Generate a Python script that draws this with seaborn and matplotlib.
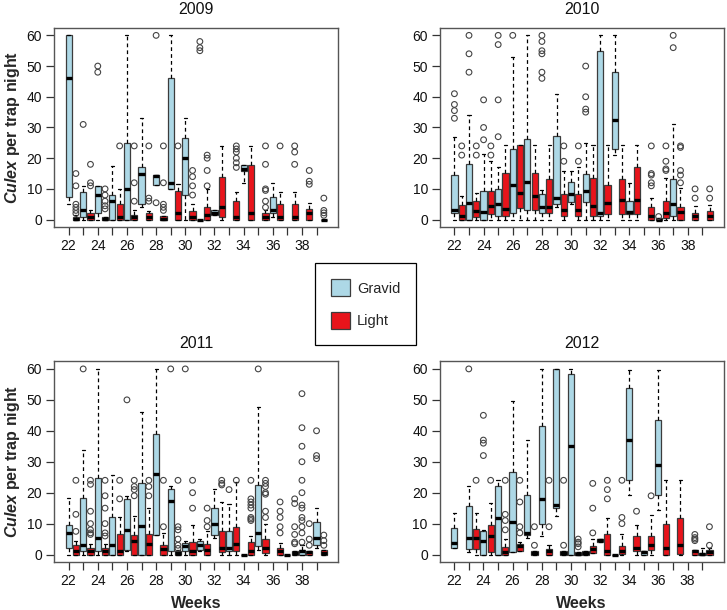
import matplotlib
matplotlib.use("Agg")
import matplotlib.pyplot as plt
import seaborn as sns
import pandas as pd
from matplotlib.patches import Patch

sns.set_style("ticks")
plt.rcParams["font.family"] = ["Liberation Sans", "DejaVu Sans"]
plt.rcParams["mathtext.fontset"] = "custom"
plt.rcParams["mathtext.it"] = "Liberation Sans:italic:bold"
plt.rcParams["mathtext.rm"] = "Liberation Sans:bold"

# ---------------- data: (week, low whisker, Q1, median, Q3, high whisker) -------------
years = ["2009", "2010", "2011", "2012"]
weeks = list(range(22, 40))
week_labels = [str(w) if (w % 2 == 0 and w <= 38) else "" for w in weeks]
y_ticks = [0, 10, 20, 30, 40, 50, 60]

gravid_2009 = [
    (22, 5, 7.5, 46, 60, 60), (23, 0, 1, 3, 9, 11), (24, 0, 2, 8, 11, 11),
    (25, 0, 0, 6, 8, 17.5), (26, 0, 0, 10, 25, 60), (27, 4, 5, 15, 17, 33),
    (28, 11.4, 11.4, 14.2, 14.6, 14.6), (29, 10, 10, 12, 46, 60),
    (30, 0, 8, 20, 26.5, 33), (31, 0, 0, 0, 0, 0), (32, 1.6, 1.6, 2.3, 3, 3),
    (34, 12, 15.7, 16.5, 17.8, 17.8), (36, 1, 2, 3, 7.5, 12),
]
light_2009 = [
    (22, 0, 0, 0.3, 1, 1.5), (23, 0, 0, 1, 2, 3), (24, 0, 0, 0.1, 1, 1),
    (25, 0, 0, 1, 5, 10), (26, 0, 0, 1, 1.6, 3), (27, 0, 0, 1, 2, 2.7),
    (28, 0, 0, 0.3, 1.1, 1.1), (29, 0, 0, 2.2, 9.3, 11.5), (30, 0, 0, 1, 2.7, 5),
    (31, 0, 0, 1.4, 4, 10), (32, 0, 1, 4, 14, 24), (33, 0, 0, 1, 6, 9),
    (34, 0, 0, 2.3, 17.8, 24), (35, 0, 0, 1, 2, 3), (36, 0, 0, 1, 5, 9),
    (37, 0, 0, 1, 5, 9), (38, 0, 0, 2, 3.6, 5.5), (39, 0, 0, 0, 0, 0),
]
gravid_out_2009 = [(23, 31), (24, 48), (24, 50), (28, 60), (28, 5.5),
                   (31, 58), (31, 56), (31, 55)]
light_out_2009 = [
    (22, 15), (22, 11), (22, 5), (22, 4), (22, 3), (22, 2),
    (23, 18), (23, 12), (23, 11), (24, 10), (24, 8), (24, 6), (24, 4.5), (24, 3.5),
    (25, 24), (26, 24), (26, 12), (26, 6), (27, 24), (27, 7), (27, 6),
    (28, 24), (28, 12), (28, 5), (28, 4), (28, 3), (29, 24),
    (30, 16), (30, 14), (30, 11), (30, 8), (31, 21), (31, 20), (31, 16), (31, 11),
    (33, 24), (33, 23), (33, 22), (33, 20), (33, 18.5), (33, 17),
    (35, 24), (35, 18), (35, 10), (35, 9.5), (35, 6), (35, 4), (36, 24),
    (37, 24), (37, 22), (37, 18), (38, 16), (38, 12.5), (38, 11.5),
    (39, 7), (39, 3), (39, 2.2), (39, 1.4),
]

gravid_2010 = [
    (22, 0, 2, 3, 14.5, 27), (23, 0, 0, 5.5, 18, 34), (24, 0, 0, 2.5, 9.3, 21.5),
    (25, 0, 1.2, 5, 10, 17), (26, 0, 2.3, 11.4, 23, 53), (27, 0, 3, 12.3, 26.2, 60),
    (28, 0, 2.3, 4, 8.5, 9.5), (29, 4, 5, 7, 27.3, 41), (30, 5, 5.7, 8.2, 12.3, 15.8),
    (31, 0, 5.8, 9.3, 14.7, 25), (32, 0, 1.2, 2.3, 55, 60), (33, 21, 23, 32.3, 48, 60),
    (34, 0, 1.9, 2.5, 6, 12), (36, 0, 0, 0, 0.5, 0.5), (37, 0, 1.2, 5, 13.3, 31),
]
light_2010 = [
    (22, 0, 0, 1.2, 4.7, 7.7), (23, 0, 0.9, 2.8, 6, 8.7), (24, 0, 1.7, 4.4, 9.3, 19),
    (25, 0, 1.2, 3.3, 15.2, 24.2), (26, 0, 3.7, 8.7, 24.2, 24.2),
    (27, 0, 3, 7.7, 15.2, 24.2), (28, 0, 2.3, 4.2, 13.3, 24.2),
    (29, 0, 1.2, 3, 8.2, 15.8), (30, 0, 1.2, 3, 8.2, 17), (31, 0, 1.2, 4.4, 13.6, 24.2),
    (32, 0, 1.9, 5.3, 11.2, 24.2), (33, 0, 1.9, 6.3, 13.3, 24.2),
    (34, 0, 1.9, 6.3, 17, 24.2), (35, 0, 0, 1.2, 4.1, 7.1), (36, 0, 0.6, 2.3, 6, 13.4),
    (37, 0, 0, 2.5, 4.2, 10.4), (38, 0, 0, 1.2, 2.3, 4.4), (39, 0, 0, 1.2, 2.8, 4.7),
]
gravid_out_2010 = [
    (22, 33), (22, 35.5), (22, 37.5), (22, 41), (23, 48), (23, 54), (23, 60),
    (24, 26), (24, 30), (24, 39), (25, 27), (25, 39), (25, 57), (25, 60), (26, 60),
    (28, 46), (28, 48), (28, 54), (28, 55), (28, 58), (28, 60),
    (31, 35), (31, 36), (31, 40), (31, 50), (36, 1), (37, 56), (37, 60),
]
light_out_2010 = [
    (22, 21), (22, 24), (23, 21), (23, 24), (24, 21), (24, 24), (29, 19), (29, 24),
    (30, 19), (30, 24), (35, 11), (35, 12), (35, 14.5), (35, 15), (35, 24),
    (36, 16), (36, 16.5), (36, 19), (36, 24), (37, 12), (37, 14.5), (37, 16),
    (37, 23.5), (37, 24), (38, 7), (38, 10), (39, 7), (39, 10),
]

gravid_2011 = [
    (22, 0, 2.2, 7, 9.7, 18.2), (23, 0, 1.1, 3.2, 18.4, 33.7), (24, 0, 1.3, 5.4, 24.6, 60),
    (25, 0, 0, 3.2, 12.1, 25.6), (26, 1, 1.6, 8.1, 18, 19), (27, 0, 0, 9.2, 23, 46),
    (28, 6.2, 6.2, 26, 39.1, 60), (29, 0, 1.1, 17.3, 21.1, 22), (30, 0, 1.3, 2.7, 3.8, 4.5),
    (31, 1, 1.6, 3, 4.3, 4.9), (32, 5.2, 6.3, 10, 15.1, 21.3), (33, 0, 1.1, 2.2, 7.6, 16.2),
    (34, 0, 0, 0, 0, 0), (35, 1.6, 2.7, 7, 22.5, 47.6), (37, 0, 0, 0, 0, 0),
    (38, 0, 0, 1.1, 1.6, 3.2), (39, 2.2, 3, 5.2, 10.6, 15.1),
]
light_2011 = [
    (22, 0, 0, 1.3, 3.2, 4.5), (23, 0, 0, 1.3, 2.2, 3.5), (24, 0, 0, 1.3, 2.2, 3.5),
    (25, 0, 0, 1.1, 6.5, 12.1), (26, 0, 0, 4.3, 6.2, 12.4), (27, 0, 0, 3.5, 6.8, 15.1),
    (28, 0, 0, 1.8, 3.2, 7), (29, 0, 0, 0.5, 1.3, 1.5), (30, 0, 0, 1.3, 4, 9.7),
    (31, 0, 0, 1.6, 3.5, 7.6), (32, 0, 0.9, 2.2, 7.6, 17.1), (33, 0, 1.1, 3.5, 9, 23.6),
    (34, 0, 0, 1.1, 4.1, 6), (35, 0, 0.5, 2.2, 5.1, 10), (36, 0, 0, 1.3, 2.2, 3.8),
    (37, 0, 0, 0.5, 1.1, 1.1), (38, 0, 0, 0.8, 1.1, 1.1), (39, 0, 0, 0.5, 1.6, 1.6),
]
gravid_out_2011 = [
    (23, 60), (26, 50), (29, 60), (30, 60), (33, 21), (35, 60),
    (38, 4), (38, 7), (38, 9), (38, 11), (38, 12), (38, 15), (38, 16), (38, 20),
    (38, 24), (38, 30), (38, 35), (38, 41), (38, 52), (39, 31), (39, 32), (39, 40),
]
light_out_2011 = [
    (22, 7.5), (22, 13), (22, 24), (23, 6.5), (23, 7), (23, 8), (23, 10), (23, 14),
    (23, 22.7), (23, 24), (24, 6), (24, 7), (24, 10), (24, 15), (24, 19), (24, 24),
    (25, 18), (25, 24), (26, 19), (26, 21), (26, 22), (26, 24), (27, 19), (27, 22),
    (27, 24), (28, 9), (28, 24), (29, 2), (29, 3), (29, 5), (29, 8), (29, 9), (29, 24),
    (30, 15), (30, 20), (30, 24), (31, 9), (31, 11), (31, 15), (32, 22.5), (32, 23),
    (32, 24), (33, 24), (34, 11), (34, 11.5), (34, 12), (34, 15), (34, 16), (34, 17),
    (34, 18), (34, 24), (35, 12), (35, 14), (35, 19.5), (35, 20), (35, 22), (35, 23),
    (35, 24), (36, 7), (36, 9), (36, 12), (36, 14), (36, 17), (37, 3.5), (37, 4),
    (37, 6.5), (37, 9), (37, 16.5), (37, 18), (38, 3), (38, 5), (38, 10),
    (39, 3), (39, 4.5), (39, 6.3),
]

gravid_2012 = [
    (22, 2.2, 2.2, 3.6, 8.6, 13.5), (23, 0.8, 1.9, 5.2, 15.7, 22.2), (24, 0, 0, 4.3, 7.6, 8.1),
    (25, 0, 0, 11.9, 22.2, 24), (26, 0.8, 0.8, 10.6, 26.8, 49.7), (27, 5.5, 6.2, 7, 19.1, 37),
    (28, 6, 10, 18, 41.4, 60), (29, 12.5, 15, 16, 60, 60), (30, 0, 0, 35, 58.4, 60),
    (31, 0, 0, 0.5, 1, 1), (32, 4, 4, 4.6, 5.1, 5.1), (33, 0, 0, 0, 0, 0),
    (34, 19.2, 24, 37.1, 53.7, 59.7), (35, 0, 0, 0.8, 1.1, 1.1),
    (36, 14.4, 19.1, 29, 43.5, 59.7), (39, 0, 0, 0.2, 0.5, 2.2),
]
light_2012 = [
    (23, 0, 1.9, 5.2, 8.3, 13.5), (24, 0, 0.8, 5.9, 9.7, 16.8), (25, 0, 0, 0.8, 2.5, 4.9),
    (26, 1.1, 1.1, 2.7, 3.5, 4), (27, 0, 0, 0.5, 1.1, 1.1), (28, 0, 0, 1.1, 1.8, 3.2),
    (29, 0, 0, 0.5, 1.1, 1.1), (30, 0, 0, 0.3, 0.8, 0.8), (31, 0.5, 0.5, 1.8, 2.7, 5.1),
    (32, 0, 0, 1.1, 6.7, 11.7), (33, 0, 0.2, 1.1, 2.9, 6.5), (34, 0, 1.1, 2.2, 5.9, 9.7),
    (35, 0, 1.4, 3.2, 5.9, 12.8), (36, 0, 0, 2.2, 9.9, 24), (37, 0, 0.3, 3.2, 11.7, 24),
    (38, 0, 0, 1, 1.5, 1.5), (39, 0, 0, 0.8, 1.5, 2),
]
gravid_out_2012 = [(23, 60), (24, 32), (24, 36), (24, 37), (24, 45)]
light_out_2012 = [
    (23, 24), (24, 24), (25, 8), (25, 11), (25, 13), (25, 24), (26, 7), (26, 9),
    (26, 17), (26, 24), (27, 3), (27, 9), (28, 9), (28, 24), (29, 3), (29, 24),
    (30, 2.5), (30, 3.5), (30, 4), (30, 5), (31, 7), (31, 15), (31, 23),
    (32, 18), (32, 21), (32, 24), (33, 10), (33, 12), (33, 24), (34, 14), (35, 19),
    (38, 4.5), (38, 5), (38, 5.5), (38, 6.5), (39, 3), (39, 9),
]

boxes = {
    "2009": (gravid_2009, light_2009, gravid_out_2009, light_out_2009),
    "2010": (gravid_2010, light_2010, gravid_out_2010, light_out_2010),
    "2011": (gravid_2011, light_2011, gravid_out_2011, light_out_2011),
    "2012": (gravid_2012, light_2012, gravid_out_2012, light_out_2012),
}

# ---------------- styling -------------
PAL = {"Gravid": "#add8e6", "Light": "#e8141b"}
OFFSET = {"Gravid": 0.0, "Light": 0.5}
EDGE = "#3c3c3c"


def box_frame(gravid, light):
    rows = []
    for trap, stats in (("Gravid", gravid), ("Light", light)):
        for w, *five in stats:
            for v in five:
                rows.append({"pos": w + OFFSET[trap], "value": v, "trap": trap})
    return pd.DataFrame(rows)


def out_frame(g_out, l_out):
    rows = []
    for trap, pts in (("Gravid", g_out), ("Light", l_out)):
        for w, v in pts:
            rows.append({"pos": w + OFFSET[trap], "value": v})
    return pd.DataFrame(rows)


fig = plt.figure(figsize=(7.27, 6.10), dpi=100)
positions = {
    "2009": [0.0743, 0.6279, 0.3906, 0.3262],
    "2010": [0.6050, 0.6279, 0.3906, 0.3262],
    "2011": [0.0743, 0.0787, 0.3906, 0.3287],
    "2012": [0.6047, 0.0787, 0.3906, 0.3287],
}

for yr in years:
    ax = fig.add_axes(positions[yr])
    g, l, go, lo = boxes[yr]
    df = box_frame(g, l)
    sns.boxplot(
        data=df, x="pos", y="value", hue="trap", hue_order=["Gravid", "Light"],
        palette=PAL, native_scale=True, dodge=False, whis=(0, 100), width=0.85,
        showfliers=False, saturation=1, linecolor=EDGE, linewidth=0.9,
        medianprops=dict(color="black", linewidth=2.4, solid_capstyle="butt"),
        whiskerprops=dict(color="black", linestyle=(0, (3, 2.5)), linewidth=0.9),
        capprops=dict(color="black", linewidth=0.9),
        legend=False, ax=ax,
    )
    od = out_frame(go, lo)
    sns.scatterplot(
        data=od, x="pos", y="value", marker="o", s=17, facecolors="none",
        edgecolor="#444444", linewidth=0.8, legend=False, ax=ax, zorder=5,
    )
    ax.set_xlim(21.0, 40.47)
    ax.set_ylim(-2.4, 62.4)
    ax.set_xticks(weeks)
    ax.set_xticklabels(week_labels)
    ax.set_yticks(y_ticks)
    ax.tick_params(direction="out", length=5.5, width=0.9, color="#333333",
                   labelsize=10, pad=3, labelcolor="#111111")
    for s in ax.spines.values():
        s.set_visible(True)
        s.set_color("#555555")
        s.set_linewidth(1.0)
    ax.set_title(yr, fontsize=11.5, pad=10, color="#111111")
    if yr in ("2009", "2011"):
        ax.set_ylabel(r"$\mathit{Culex}$ per trap night", fontsize=11.5,
                      fontweight="bold", labelpad=3)
    else:
        ax.set_ylabel("")
    if yr in ("2011", "2012"):
        ax.set_xlabel("Weeks", fontsize=11.5, fontweight="bold", labelpad=6)
    else:
        ax.set_xlabel("")

handles = [Patch(facecolor=PAL[t], edgecolor=EDGE, linewidth=0.9, label=t)
           for t in ("Gravid", "Light")]
leg = fig.legend(
    handles=handles, loc="center", bbox_to_anchor=(0.5028, 0.5016),
    frameon=True, fancybox=False, edgecolor="black", framealpha=1,
    fontsize=10.5, handlelength=1.3, handleheight=1.37, labelspacing=1.1,
    borderpad=1.1, handletextpad=0.5, borderaxespad=0,
)
leg.get_frame().set_linewidth(0.9)

fig.savefig("out.png", dpi=100)
